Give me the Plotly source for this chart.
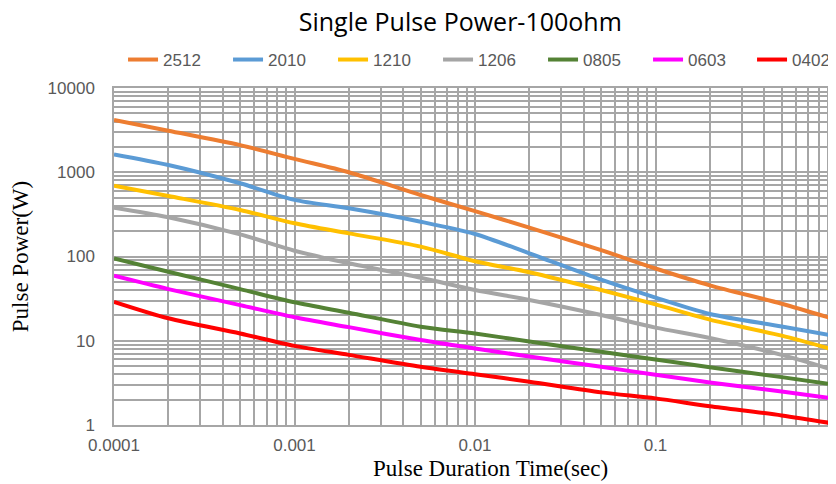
import plotly.graph_objects as go

durations = [0.0001, 0.0002, 0.0005, 0.001, 0.002, 0.005, 0.01, 0.02, 0.05, 0.1, 0.2, 0.5, 1]

p2512 = [4170, 3110, 2100, 1440, 1000, 537, 345, 220, 119, 72, 45.5, 27.5, 17.8]
p2010 = [1630, 1220, 740, 470, 373, 259, 185, 109, 53, 32.5, 20.8, 14.8, 11.3]
p1210 = [692, 523, 357, 248, 188, 131, 88, 65, 40, 27, 17.8, 11.5, 7.7]
p1206 = [379, 292, 183, 117, 83, 56, 40, 30.5, 20.2, 14.3, 10.8, 6.8, 4.4]
p0805 = [95, 66, 41, 28.6, 21.5, 14.7, 12.2, 9.8, 7.4, 6.0, 4.85, 3.7, 3.0]
p0603 = [59, 41, 26.5, 19, 14.5, 10.2, 8.1, 6.5, 4.9, 3.95, 3.2, 2.5, 2.05]
p0402 = [29, 18.5, 12.2, 8.7, 6.8, 4.9, 4.0, 3.27, 2.44, 2.07, 1.67, 1.3, 1.03]

series_names = ["2512", "2010", "1210", "1206", "0805", "0603", "0402"]
series_values = [p2512, p2010, p1210, p1206, p0805, p0603, p0402]
colors = ["#ED7D31", "#5B9BD5", "#FFC000", "#A5A5A5", "#548235", "#FF00FF", "#FF0000"]

x_tickvals = [0.0001, 0.001, 0.01, 0.1, 1]
x_ticktext = ["0.0001", "0.001", "0.01", "0.1", "1"]
y_tickvals = [1, 10, 100, 1000, 10000]
y_ticktext = ["1", "10", "100", "1000", "10000"]

fig = go.Figure()
for i, (name, vals, c) in enumerate(zip(series_names, series_values, colors)):
    fig.add_trace(go.Scatter(
        x=durations, y=vals, name=name, mode="lines",
        line=dict(color=c, width=4, shape="spline", smoothing=0.8),
        legend="legend2" if i == len(series_names) - 1 else "legend",
    ))

grid_color = "#A6A6A6"
legend_font = dict(family="Liberation Sans", size=17, color="#595959")
fig.update_layout(
    width=836, height=484,
    margin=dict(l=106, r=8, t=80, b=67, autoexpand=False),
    paper_bgcolor="white", plot_bgcolor="white",
    title=dict(text="Single Pulse Power-100ohm", x=0.541, xanchor="center",
               y=0.970, yanchor="middle",
               font=dict(family="Open Sans", size=25, color="#000000")),
    legend=dict(orientation="h", xref="container", yref="container",
                x=0.1376, xanchor="left", y=0.8926, yanchor="middle",
                entrywidth=60, entrywidthmode="pixels",
                font=legend_font, bgcolor="rgba(0,0,0,0)", itemwidth=30),
    legend2=dict(orientation="h", xref="container", yref="container",
                 x=0.89, xanchor="left", y=0.8926, yanchor="middle",
                 entrywidth=40, entrywidthmode="pixels",
                 font=legend_font, bgcolor="rgba(0,0,0,0)", itemwidth=30),
    showlegend=True,
    annotations=[dict(text="Pulse Duration Time(sec)", xref="paper", yref="paper",
                      x=0.521, y=-0.128, xanchor="center", yanchor="middle",
                      showarrow=False,
                      font=dict(family="Liberation Serif", size=23, color="#000000"))],
)
fig.update_xaxes(
    type="log", range=[-4, 0],
    tickvals=x_tickvals, ticktext=x_ticktext,
    tickfont=dict(family="Liberation Sans", size=17, color="#595959"),
    showgrid=True, gridcolor=grid_color, gridwidth=1.5,
    minor=dict(showgrid=True, gridcolor=grid_color, gridwidth=1.5, dtick="D1"),
    showline=True, linecolor=grid_color, linewidth=1.5, mirror=True,
    ticks="", zeroline=False, ticklabelstandoff=4, automargin=False,
)
fig.update_yaxes(
    type="log", range=[0, 4],
    tickvals=y_tickvals, ticktext=y_ticktext,
    tickfont=dict(family="Liberation Sans", size=17, color="#595959"),
    showgrid=True, gridcolor=grid_color, gridwidth=1.5,
    minor=dict(showgrid=True, gridcolor=grid_color, gridwidth=1.5, dtick="D1"),
    showline=True, linecolor=grid_color, linewidth=1.5, mirror=True,
    ticks="", zeroline=False, ticklabelstandoff=14, automargin=False,
    title=dict(text="Pulse Power(W)", standoff=16,
               font=dict(family="Liberation Serif", size=23, color="#000000")),
)

fig.write_html("out.html")
